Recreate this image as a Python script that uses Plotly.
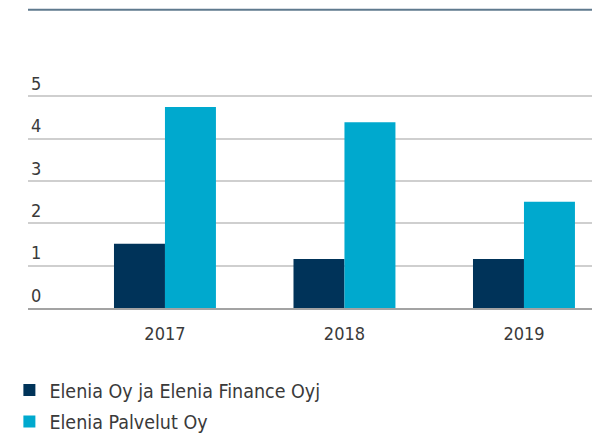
import plotly.graph_objects as go

years = ["2017", "2018", "2019"]
series_names = ["Elenia Oy ja Elenia Finance Oyj", "Elenia Palvelut Oy"]
elenia_oy = [1.52, 1.16, 1.16]
elenia_palvelut = [4.75, 4.39, 2.51]
y_ticks = [0, 1, 2, 3, 4, 5]
y_dark_ticks = [0, 2, 4]

FONT = "DejaVu Sans Condensed, Liberation Sans Narrow, Roboto, sans-serif"
TXT = "#3a3a3a"
FS_TICK = 18
FS_LEG = 19.5

fig = go.Figure()
fig.add_trace(go.Bar(x=years, y=elenia_oy, name=series_names[0],
                     marker=dict(color="#003359", line=dict(width=0)),
                     legendgroup="a"))
fig.add_trace(go.Bar(x=years, y=elenia_palvelut, name=series_names[1],
                     marker=dict(color="#00a9ce", line=dict(width=0)),
                     legendgroup="b"))

# The page body adds an 8px margin, so the figure is 8px smaller and
# everything is laid out 8px up/left.
fig.update_layout(
    width=594, height=425,
    margin=dict(l=20, r=10, t=62.5, b=124.7, pad=0, autoexpand=False),
    paper_bgcolor="white", plot_bgcolor="white",
    font=dict(family=FONT, size=FS_TICK, color=TXT),
    barmode="group", bargap=0.432, bargroupgap=0,
    showlegend=True,
    legend=dict(x=-0.033, xanchor="left", y=-0.2654, yanchor="top",
                orientation="v", tracegroupgap=3,
                font=dict(family=FONT, size=FS_LEG, color=TXT),
                bgcolor="rgba(0,0,0,0)"),
    xaxis=dict(type="category", range=[-0.763, 2.379], showgrid=False,
               showline=True, linecolor="#a3a3a3", linewidth=2,
               zeroline=False, ticks="", automargin=False,
               ticklabelstandoff=8, tickfont=dict(size=FS_TICK, color=TXT)),
    yaxis=dict(range=[0, 5.6], tickmode="array", tickvals=y_ticks,
               ticktext=[str(v) for v in y_ticks],
               showgrid=True, gridcolor="#cfcfcf", gridwidth=2,
               zeroline=False, showline=False, ticks="", automargin=False,
               ticklabelposition="inside top",
               tickfont=dict(size=FS_TICK, color=TXT)),
    yaxis2=dict(range=[0, 5.6], overlaying="y", anchor="x", side="left",
                tickmode="array", tickvals=y_dark_ticks, automargin=False,
                showgrid=True, gridcolor="#a3a3a3", gridwidth=2,
                zeroline=False, showline=False, ticks="",
                showticklabels=False),
    shapes=[dict(type="line", xref="paper", yref="paper",
                 x0=0, x1=1, y0=1.2586, y1=1.2586,
                 line=dict(color="#5f7a8e", width=2))],
)

fig.write_html("out.html")
